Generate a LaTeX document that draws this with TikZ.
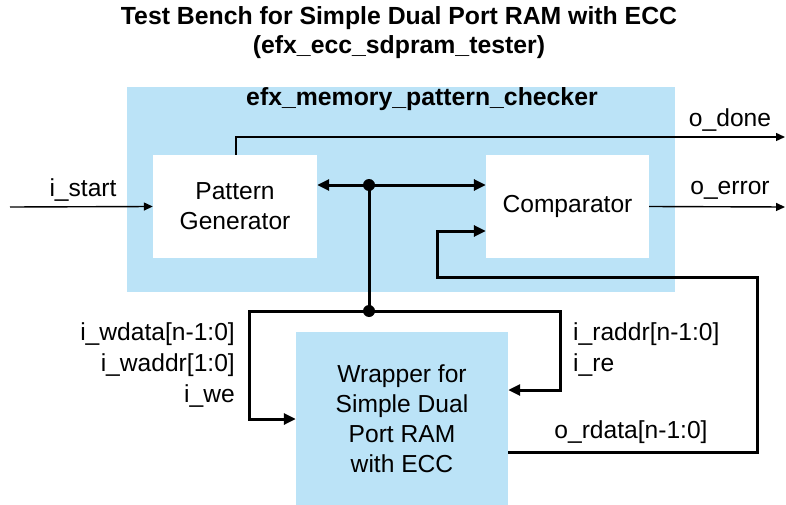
\documentclass[tikz,border=0pt]{standalone}
\usepackage{fontspec}
\setmainfont{Liberation Sans}
\usetikzlibrary{arrows.meta,calc}
\definecolor{blk}{RGB}{187,227,247}
\tikzset{
  lbl/.style={font=\fontsize{24.6}{30.5}\selectfont, inner sep=0pt},
  ttl/.style={font=\fontsize{24.8}{29}\selectfont\bfseries, inner sep=0pt, align=center},
  box/.style={fill=white, inner sep=0pt, align=center, font=\fontsize{24.6}{30}\selectfont},
  bus/.style={line width=3pt, -{Triangle[length=12pt,width=11pt]}},
  busboth/.style={line width=3pt, {Triangle[length=12pt,width=11pt]}-{Triangle[length=12pt,width=11pt]}},
  sig/.style={line width=1.4pt, -{Triangle[length=9pt,width=8pt]}},
  dot/.style={circle, fill=black, inner sep=0pt, minimum size=12pt}
}
\begin{document}
\begin{tikzpicture}[x=1pt,y=-1pt]
\useasboundingbox (0,0) rectangle (786,505);
% title
\node[ttl] (title) at (399,33) {Test Bench for Simple Dual Port RAM with ECC\\(efx\_ecc\_sdpram\_tester)};
% checker block and its sub-blocks
\node[fill=blk, inner sep=0pt, minimum width=548pt, minimum height=205pt, anchor=north west] (chk) at (127,87) {};
\node[ttl] (chkname) at (422,99) {efx\_memory\_pattern\_checker};
\node[box, minimum width=164pt, minimum height=103pt] (pg) at (235,206.5) {Pattern\\Generator};
\node[box, minimum width=163pt, minimum height=103pt] (cmp) at (567.5,206.5) {Comparator};
% RAM wrapper
\node[box, fill=blk, minimum width=212pt, minimum height=174pt] (ram) at (402,419) {Wrapper for\\Simple Dual\\Port RAM\\with ECC};
% bus routing points
\coordinate (j1) at (369,185);
\coordinate (j2) at (369,311);
\coordinate (wl) at (249,419);
\coordinate (wr) at (560,390);
\coordinate (r1) at (757,452);
\coordinate (r2) at (437,277);
\coordinate (cin) at (486,231);
\coordinate (d1) at (236,137);
\coordinate (dout) at (785,137);
\coordinate (eout) at (785,207);
\coordinate (sin) at (10,207);
% buses
\draw[busboth] (j1 -| pg.east) -- (j1 -| cmp.west);
\draw[line width=3pt] (j1) -- (j2);
\draw[bus] (j2) -| (wl) -- (wl -| ram.west);
\draw[bus] (j2) -| (wr) -- (wr -| ram.east);
\draw[bus] (r1 -| ram.east) -- (r1) |- (r2) |- (cin -| cmp.west);
\node[dot] (dot1) at (j1) {};
\node[dot] (dot2) at (j2) {};
% single signals
\draw[sig] (sin) -- (pg.west);
\draw[sig] (d1 |- pg.north) -- (d1) -- (dout);
\draw[sig] (cmp.east) -- (eout);
% labels
\node[lbl] (lstart) at (83,190) {i\_start};
\node[lbl] (ldone) at (730,120) {o\_done};
\node[lbl] (lerr) at (730,190) {o\_error};
\node[lbl, anchor=east] (lwdata) at (235,334) {i\_wdata[n-1:0]};
\node[lbl, anchor=east] (lwaddr) at (235,365) {i\_waddr[1:0]};
\node[lbl, anchor=east] (lwe) at (235,396) {i\_we};
\node[lbl, anchor=west] (lraddr) at (573,334) {i\_raddr[n-1:0]};
\node[lbl, anchor=west] (lre) at (573,365) {i\_re};
\node[lbl] (lrdata) at (631,432) {o\_rdata[n-1:0]};
\end{tikzpicture}
\end{document}
